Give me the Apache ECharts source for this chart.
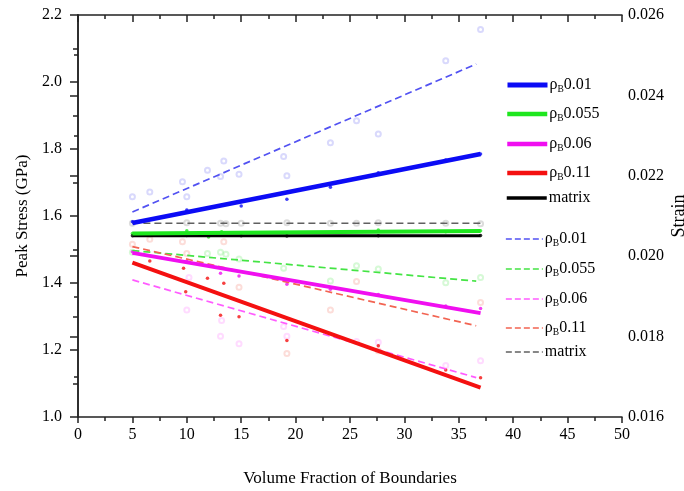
<!DOCTYPE html>
<html>
<head>
<meta charset="utf-8">
<script src="https://cdn.jsdelivr.net/npm/echarts@6/dist/echarts.min.js"></script>
<style>html,body{margin:0;padding:0;background:#fff}#c{width:684px;height:491px}</style>
</head>
<body>
<div id="c"></div>
<script>
// ---------- data ----------
const groups = ['0.01', '0.055', '0.06', '0.11', 'matrix'];
// fitted lines (x endpoints and values)
const stressFitX = [5, 37];
const strainFitX = [5, 36.6];
const strainMatrixFitX = [5, 37];
const stressFit01 = [1.579, 1.785];
const stressFit055 = [1.548, 1.555];
const stressFit06 = [1.490, 1.310];
const stressFit11 = [1.461, 1.088];
const stressFitMatrix = [1.541, 1.541];
const strainFit01 = [0.0211, 0.02478];
const strainFit055 = [0.02014, 0.01938];
const strainFit06 = [0.01941, 0.01698];
const strainFit11 = [0.02024, 0.01827];
const strainFitMatrix = [0.02082, 0.02082];
// measured points: peak stress (GPa)
const stress01X = [5, 10, 15, 19.2, 23.2, 27.6, 33.8, 37];
const stress01Y = [1.583, 1.618, 1.630, 1.650, 1.686, 1.729, 1.767, 1.785];
const stress055X = [5, 10, 12, 13.2, 19.2, 27.6, 33.8, 37];
const stress055Y = [1.548, 1.556, 1.537, 1.553, 1.549, 1.558, 1.553, 1.556];
const stress06X = [5, 10, 13.1, 14.8, 19.2, 23.2, 27.6, 33.8, 37];
const stress06Y = [1.493, 1.465, 1.429, 1.421, 1.396, 1.381, 1.366, 1.331, 1.324];
const stress11X = [6.6, 9.7, 9.9, 11.9, 13.1, 13.4, 14.8, 19.2, 27.6, 33.8, 37];
const stress11Y = [1.466, 1.444, 1.374, 1.414, 1.304, 1.399, 1.299, 1.228, 1.213, 1.140, 1.117];
const stressMatrixX = [5, 10, 15, 19.2, 27.6, 37];
const stressMatrixY = [1.541, 1.542, 1.541, 1.540, 1.541, 1.542];
// measured points: strain
const strain01X = [5, 6.6, 9.6, 10, 11.9, 13.1, 13.4, 14.8, 18.9, 19.2, 23.2, 25.6, 27.6, 33.8, 37];
const strain01Y = [0.02148, 0.0216, 0.02185, 0.02148, 0.02214, 0.02198, 0.02237, 0.02204, 0.02248, 0.0220, 0.02282, 0.02337, 0.02304, 0.02486, 0.02564];
const strain055X = [5, 11.9, 13.1, 13.6, 14.8, 18.9, 23.2, 25.6, 27.6, 33.8, 37];
const strain055Y = [0.0201, 0.02007, 0.0201, 0.02005, 0.01993, 0.0197, 0.01938, 0.01976, 0.01968, 0.01934, 0.01947];
const strain06X = [10, 10.2, 13.1, 13.2, 14.8, 18.9, 19.2, 25.6, 27.6, 33.8, 37];
const strain06Y = [0.01866, 0.01947, 0.01801, 0.0184, 0.01782, 0.01825, 0.01801, 0.01788, 0.01786, 0.01728, 0.0174];
const strain11X = [5, 6.6, 9.6, 10, 13.4, 14.8, 19.2, 23.2, 25.6, 27.6, 37];
const strain11Y = [0.0203, 0.02042, 0.02036, 0.02007, 0.02036, 0.01923, 0.01758, 0.01866, 0.01937, 0.01765, 0.01885];
const strainMatrixX = [5, 10, 13.1, 13.6, 15, 19.2, 23.2, 25.6, 27.6, 33.8, 37];
const strainMatrixY = [0.02082, 0.02083, 0.02082, 0.02081, 0.02082, 0.02083, 0.02082, 0.02082, 0.02083, 0.02082, 0.02081];

// ---------- styling ----------
const FONT = 'Liberation Serif';
const solidColors = ['#0b0bf5', '#1ee61e', '#f00ff0', '#f41010', '#000000'];
const dashColors = ['#5252f2', '#44e444', '#ff5cff', '#f26452', '#606060'];
const solidWidths = [4.5, 4, 4, 4, 3];

const zip = (xs, ys) => xs.map((x, i) => [x, ys[i]]);
const stressFits = [stressFit01, stressFit055, stressFit06, stressFit11, stressFitMatrix];
const strainFits = [strainFit01, strainFit055, strainFit06, strainFit11, strainFitMatrix];
const stressPts = [[stress01X, stress01Y], [stress055X, stress055Y], [stress06X, stress06Y], [stress11X, stress11Y], [stressMatrixX, stressMatrixY]];
const strainPts = [[strain01X, strain01Y], [strain055X, strain055Y], [strain06X, strain06Y], [strain11X, strain11Y], [strainMatrixX, strainMatrixY]];

const series = [];
groups.forEach((g, i) => {
  series.push({
    name: 'strainpts' + g, type: 'scatter', yAxisIndex: 1, z: 1,
    symbol: 'emptyCircle', symbolSize: 5,
    itemStyle: { color: dashColors[i], borderColor: dashColors[i], borderWidth: 1, opacity: 0.22 },
    data: zip(strainPts[i][0], strainPts[i][1]), silent: true
  });
  series.push({
    name: 'stresspts' + g, type: 'scatter', yAxisIndex: 0, z: 2,
    symbol: 'circle', symbolSize: 3.5,
    itemStyle: { color: solidColors[i], opacity: 0.8 },
    data: zip(stressPts[i][0], stressPts[i][1]), silent: true
  });
});
groups.forEach((g, i) => {
  const fx = (i === 4) ? strainMatrixFitX : strainFitX;
  series.push({
    name: 'd' + g, type: 'line', yAxisIndex: 1, z: 3,
    symbol: 'none', color: dashColors[i],
    lineStyle: { color: dashColors[i], width: 1.7, type: [7, 4] },
    data: zip(fx, strainFits[i])
  });
});
groups.forEach((g, i) => {
  series.push({
    name: 's' + g, type: 'line', yAxisIndex: 0, z: 4 + (i === 4 ? 0 : 1),
    symbol: 'none', color: solidColors[i],
    lineStyle: { color: solidColors[i], width: solidWidths[i] },
    data: zip(stressFitX, stressFits[i])
  });
});

const legendTopsSolid = [76, 105, 135, 164, 190];
const legendTopsDash = [230, 260, 290, 319, 344];
const rich = {
  a: { fontFamily: FONT, fontSize: 16, color: '#000', lineHeight: 18 },
  b: { fontFamily: FONT, fontSize: 9.5, color: '#000', padding: [8, 0, 0, 0], lineHeight: 18 }
};
const legendFmt = name => {
  const g = name.slice(1);
  if (g === 'matrix') return '{a|matrix}';
  return '{a|ρ}{b|B}{a|' + g + '}';
};
const legends = [];
groups.forEach((g, i) => {
  legends.push({
    data: ['s' + g], left: 505, top: legendTopsSolid[i], orient: 'vertical',
    itemWidth: 40, itemHeight: 14, itemGap: 0, padding: 0,
    formatter: legendFmt,
    itemStyle: { opacity: 0 },
    lineStyle: { width: solidWidths[i] + 0.5, color: solidColors[i] },
    textStyle: { rich, padding: [0, 0, 0, -3] }, selectedMode: false
  });
  legends.push({
    data: ['d' + g], left: 505, top: legendTopsDash[i], orient: 'vertical',
    itemWidth: 37, itemHeight: 14, itemGap: 0, padding: 0,
    formatter: legendFmt,
    itemStyle: { opacity: 0 },
    lineStyle: { width: 1.7, color: dashColors[i], type: [6, 3] },
    textStyle: { rich, padding: [0, 0, 0, -3] }, selectedMode: false
  });
});

const axisLine = { show: true, lineStyle: { color: '#222', width: 1.5 } };
const labelStyle = { fontFamily: FONT, fontSize: 16, color: '#000' };

const option = {
  animation: false,
  backgroundColor: '#fff',
  grid: { left: 78, right: 62, top: 15, bottom: 74, containLabel: false, outerBoundsMode: 'none' },
  legend: legends,
  xAxis: [{
    type: 'value', min: 0, max: 50, interval: 5, position: 'bottom',
    name: 'Volume Fraction of Boundaries', nameLocation: 'middle', nameGap: 53,
    nameTextStyle: { fontFamily: FONT, fontSize: 17, color: '#000' },
    axisLine, axisTick: { show: true, inside: false, length: 6, lineStyle: { color: '#222', width: 1.5 } },
    minorTick: { show: true, splitNumber: 2, length: 4, lineStyle: { color: '#222', width: 1.5 } },
    axisLabel: Object.assign({ margin: 10 }, labelStyle),
    splitLine: { show: false }
  }, {
    type: 'value', min: 0, max: 50, interval: 5, position: 'top',
    axisLine, axisTick: { show: true, inside: true, length: 7, lineStyle: { color: '#222', width: 1.5 } },
    minorTick: { show: true, splitNumber: 2, length: 4, lineStyle: { color: '#222', width: 1.5 } },
    axisLabel: { show: false }, splitLine: { show: false }
  }],
  yAxis: [{
    type: 'value', min: 1.0, max: 2.2, interval: 0.2, position: 'left',
    name: 'Peak Stress (GPa)', nameLocation: 'middle', nameGap: 47, nameRotate: 90,
    nameTextStyle: { fontFamily: FONT, fontSize: 17, color: '#000' },
    axisLine, axisTick: { show: true, inside: false, length: 8, lineStyle: { color: '#222', width: 1.5 } },
    minorTick: { show: true, splitNumber: 2, length: 5, lineStyle: { color: '#222', width: 1.5 } },
    axisLabel: Object.assign({ margin: 16, formatter: v => v.toFixed(1) }, labelStyle),
    splitLine: { show: false }
  }, {
    type: 'value', min: 0.016, max: 0.026, interval: 0.002, position: 'right',
    name: 'Strain', nameLocation: 'middle', nameGap: 48, nameRotate: 90, nameMoveOverlap: false,
    nameTextStyle: { fontFamily: FONT, fontSize: 18, color: '#000' },
    axisLine, axisTick: { show: true, inside: true, length: 8, lineStyle: { color: '#222', width: 1.5 } },
    minorTick: { show: true, splitNumber: 2, length: 4, lineStyle: { color: '#222', width: 1.5 } },
    axisLabel: Object.assign({ margin: 6, formatter: v => v.toFixed(3) }, labelStyle),
    splitLine: { show: false }
  }],
  series
};
const chart = echarts.init(document.getElementById('c'), null, { renderer: 'canvas' });
chart.setOption(option);
</script>
</body>
</html>
